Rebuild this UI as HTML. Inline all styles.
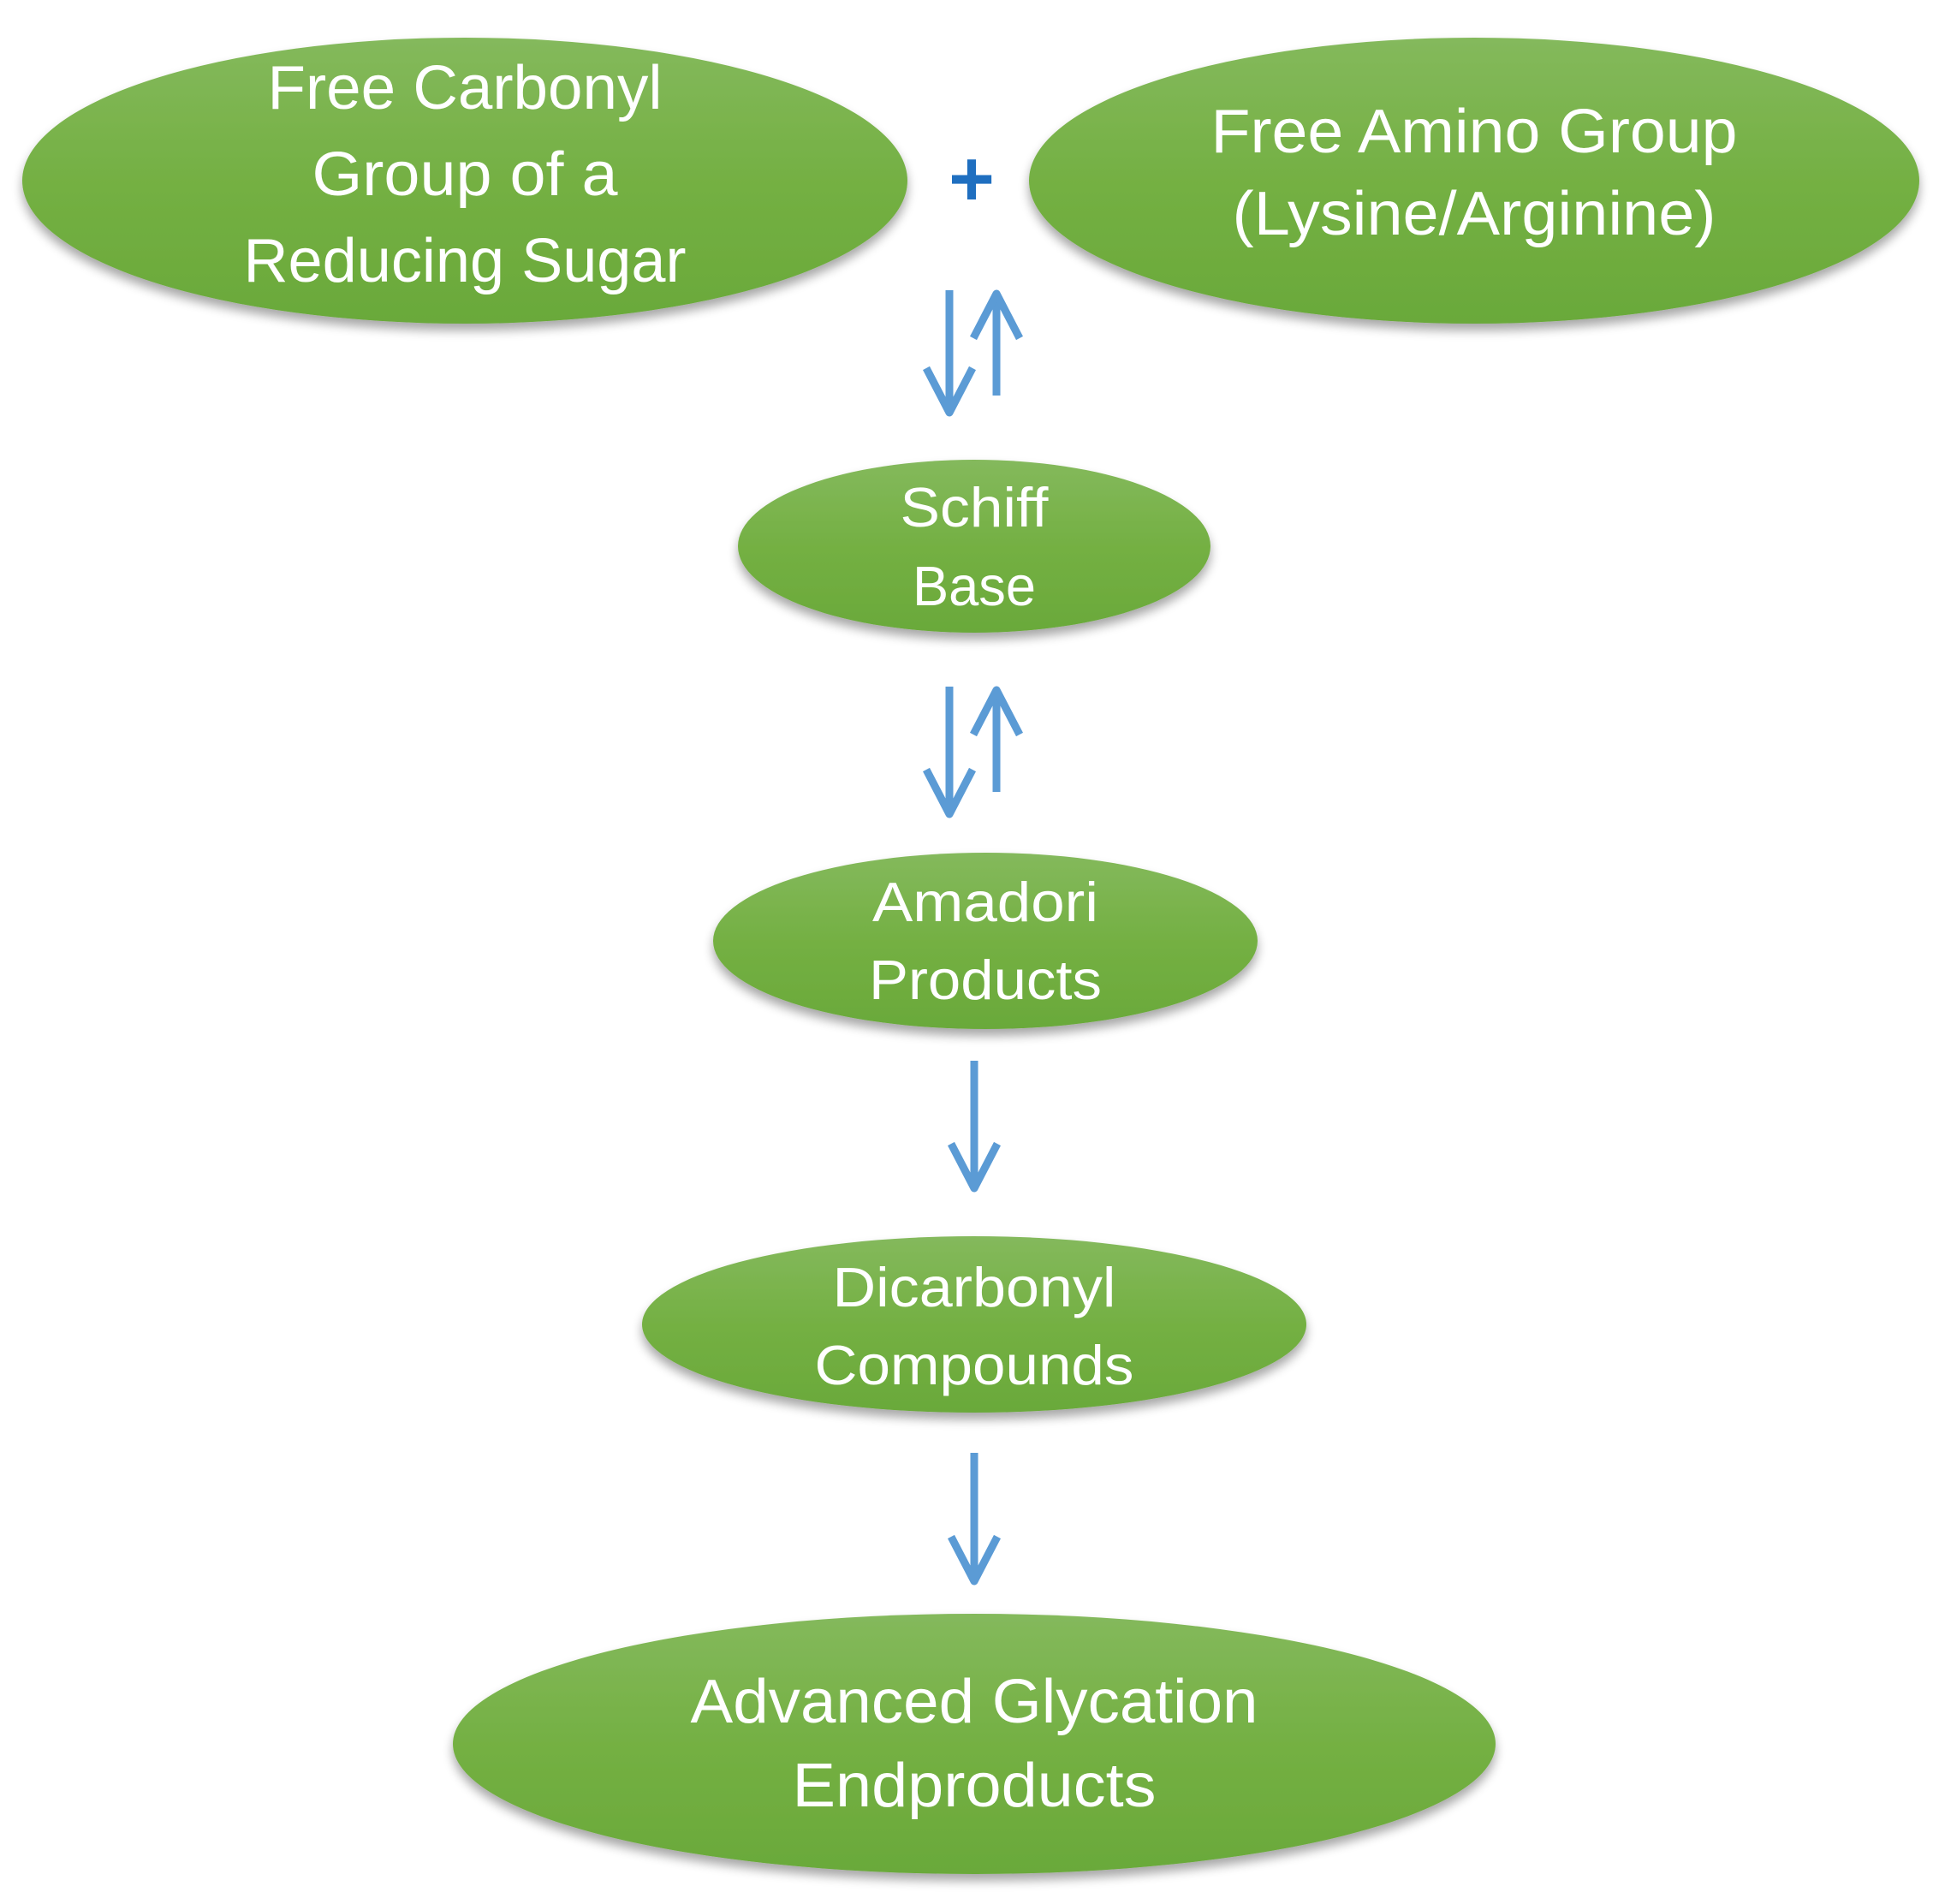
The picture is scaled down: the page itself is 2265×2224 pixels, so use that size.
<!DOCTYPE html>
<html><head><meta charset="utf-8"><style>html,body{margin:0;padding:0;background:#fff}svg{display:block}</style></head>
<body>
<svg width="2265" height="2224" viewBox="0 0 2265 2224" xmlns="http://www.w3.org/2000/svg">
<defs>
<linearGradient id="g" x1="0" y1="0" x2="0" y2="1">
<stop offset="0" stop-color="#84b95c"/><stop offset="0.5" stop-color="#74b043"/><stop offset="1" stop-color="#6aa93a"/>
</linearGradient>
<filter id="s" x="-10%" y="-10%" width="120%" height="130%"><feGaussianBlur in="SourceAlpha" stdDeviation="6"/><feOffset dy="8"/><feComponentTransfer><feFuncA type="linear" slope="0.35"/></feComponentTransfer><feMerge><feMergeNode/><feMergeNode in="SourceGraphic"/></feMerge></filter>
</defs>
<g fill="url(#g)" filter="url(#s)">
<ellipse cx="543" cy="211" rx="517" ry="167"/>
<ellipse cx="1722" cy="211" rx="520" ry="167"/>
<ellipse cx="1138" cy="638" rx="276" ry="101"/>
<ellipse cx="1151" cy="1099" rx="318" ry="103"/>
<ellipse cx="1138" cy="1547" rx="388" ry="103"/>
<ellipse cx="1138" cy="2037" rx="609" ry="152"/>
</g>
<text x="1135" y="240" font-family="Liberation Sans, sans-serif" font-weight="bold" font-size="92" fill="#1f6fc0" text-anchor="middle">+</text>
<g stroke="#5b9bd5" stroke-width="9" fill="none" stroke-linecap="butt" stroke-linejoin="round">
<line x1="1109" y1="339" x2="1109" y2="482"/><polyline points="1082,430 1109,482 1136,430"/>
<line x1="1164" y1="345" x2="1164" y2="462"/><polyline points="1137,395 1164,343 1191,395"/>
<line x1="1109" y1="802" x2="1109" y2="951"/><polyline points="1082,899 1109,951 1136,899"/>
<line x1="1164" y1="808" x2="1164" y2="925"/><polyline points="1137,858 1164,806 1191,858"/>
<line x1="1138" y1="1239" x2="1138" y2="1388"/><polyline points="1111,1336 1138,1388 1165,1336"/>
<line x1="1138" y1="1697" x2="1138" y2="1847"/><polyline points="1111,1795 1138,1847 1165,1795"/>
</g>
<g font-family="Liberation Sans, sans-serif" fill="#fff" text-anchor="middle">
<text x="543" y="127" font-size="72" textLength="461" lengthAdjust="spacingAndGlyphs">Free Carbonyl</text>
<text x="543" y="228" font-size="72" textLength="357" lengthAdjust="spacingAndGlyphs">Group of a</text>
<text x="543" y="329" font-size="72" textLength="517" lengthAdjust="spacingAndGlyphs">Reducing Sugar</text>
<text x="1722" y="178" font-size="72" textLength="615" lengthAdjust="spacingAndGlyphs">Free Amino Group</text>
<text x="1722" y="274" font-size="72" textLength="565" lengthAdjust="spacingAndGlyphs">(Lysine/Arginine)</text>
<text x="1138" y="615" font-size="65" textLength="173" lengthAdjust="spacingAndGlyphs">Schiff</text>
<text x="1138" y="707" font-size="65" textLength="144" lengthAdjust="spacingAndGlyphs">Base</text>
<text x="1151" y="1076" font-size="65" textLength="264" lengthAdjust="spacingAndGlyphs">Amadori</text>
<text x="1151" y="1167" font-size="65" textLength="272" lengthAdjust="spacingAndGlyphs">Products</text>
<text x="1138" y="1526" font-size="65" textLength="331" lengthAdjust="spacingAndGlyphs">Dicarbonyl</text>
<text x="1138" y="1617" font-size="65" textLength="373" lengthAdjust="spacingAndGlyphs">Compounds</text>
<text x="1138" y="2012" font-size="72" textLength="663" lengthAdjust="spacingAndGlyphs">Advanced Glycation</text>
<text x="1138" y="2110" font-size="72" textLength="425" lengthAdjust="spacingAndGlyphs">Endproducts</text>
</g>
</svg>
</body></html>
